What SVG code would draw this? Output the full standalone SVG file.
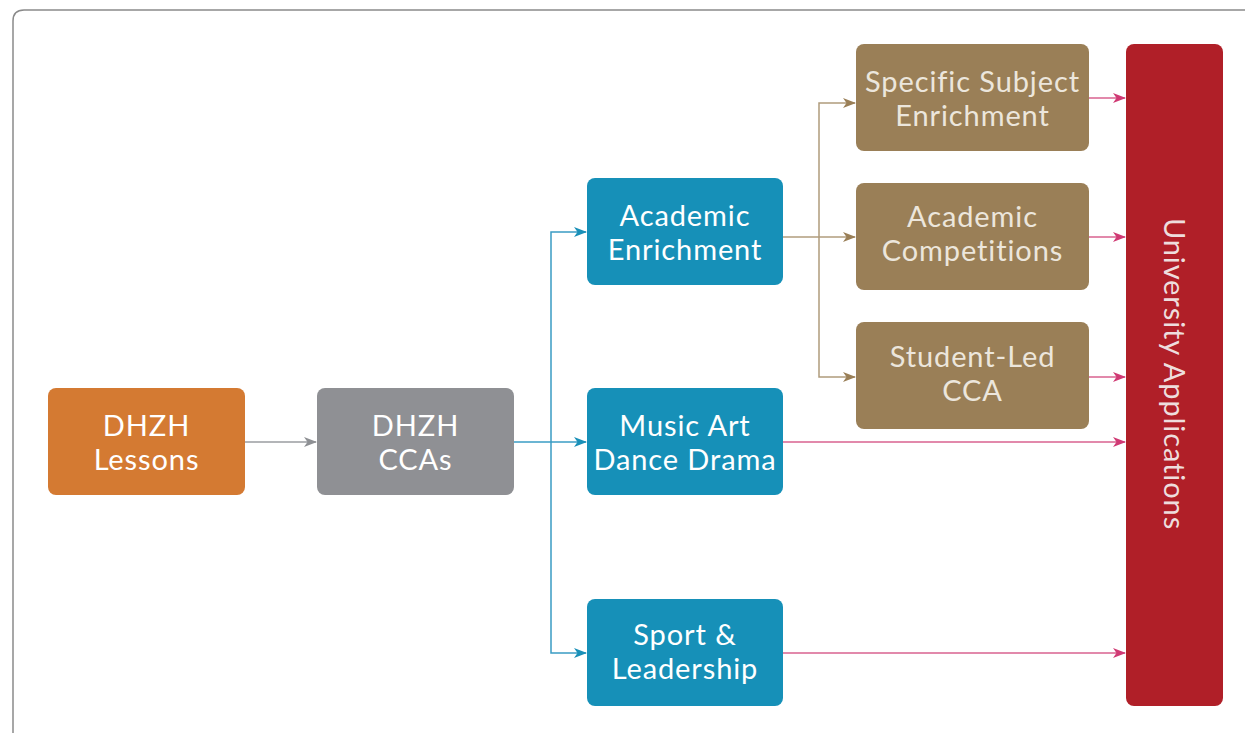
<svg xmlns="http://www.w3.org/2000/svg" width="1245" height="733" viewBox="0 0 1245 733">
<style>
.lbl{font-family:Lato,"Open Sans","DejaVu Sans",sans-serif;font-size:29px;letter-spacing:0.9px;text-anchor:middle}
.w{fill:#ffffff}
.lt{fill:#ece6dc}
.ln{fill:none;stroke-width:1.5}
</style>
<defs>
<marker id="aG" markerWidth="14" markerHeight="12" refX="12" refY="5" orient="auto" markerUnits="userSpaceOnUse"><path d="M0,0 L13,5 L0,10 L3.5,5 Z" fill="#8e9094"/></marker>
<marker id="aB" markerWidth="14" markerHeight="12" refX="12" refY="5" orient="auto" markerUnits="userSpaceOnUse"><path d="M0,0 L13,5 L0,10 L3.5,5 Z" fill="#1a90b8"/></marker>
<marker id="aN" markerWidth="14" markerHeight="12" refX="12" refY="5" orient="auto" markerUnits="userSpaceOnUse"><path d="M0,0 L13,5 L0,10 L3.5,5 Z" fill="#9a7f57"/></marker>
<marker id="aP" markerWidth="14" markerHeight="12" refX="12" refY="5" orient="auto" markerUnits="userSpaceOnUse"><path d="M0,0 L13,5 L0,10 L3.5,5 Z" fill="#d03a74"/></marker>
</defs>
<rect width="1245" height="733" fill="#ffffff"/>
<path d="M13,733 V21 Q13,10 24,10 H1245" fill="none" stroke="#8a8a8a" stroke-width="1.5"/>
<g id="connectors">
<path class="ln" stroke="#9a9ca0" d="M245,442 H316" marker-end="url(#aG)"/>
<path class="ln" stroke="#3a9cc4" d="M514,442 H586" marker-end="url(#aB)"/>
<path class="ln" stroke="#3a9cc4" d="M551,442 V232 H586" marker-end="url(#aB)"/>
<path class="ln" stroke="#3a9cc4" d="M551,442 V653 H586" marker-end="url(#aB)"/>
<path class="ln" stroke="#b09c7c" d="M783,237 H855" marker-end="url(#aN)"/>
<path class="ln" stroke="#b09c7c" d="M819,237 V103 H855" marker-end="url(#aN)"/>
<path class="ln" stroke="#b09c7c" d="M819,237 V377 H855" marker-end="url(#aN)"/>
<path class="ln" stroke="#d9628f" d="M1089,98 H1125" marker-end="url(#aP)"/>
<path class="ln" stroke="#d9628f" d="M1089,237 H1125" marker-end="url(#aP)"/>
<path class="ln" stroke="#d9628f" d="M1089,377 H1125" marker-end="url(#aP)"/>
<path class="ln" stroke="#d9628f" d="M783,442 H1125" marker-end="url(#aP)"/>
<path class="ln" stroke="#d9628f" d="M783,653 H1125" marker-end="url(#aP)"/>
</g>
<g id="lessons">
<rect x="48" y="388" width="197" height="107" rx="8" fill="#d47a32"/>
<text class="lbl w" x="146.5" y="436">DHZH</text>
<text class="lbl w" x="146.5" y="470">Lessons</text>
</g>
<g id="ccas">
<rect x="317" y="388" width="197" height="107" rx="8" fill="#8f9094"/>
<text class="lbl w" x="415.5" y="436">DHZH</text>
<text class="lbl w" x="415.5" y="470">CCAs</text>
</g>
<g id="academic-enrichment">
<rect x="587" y="178" width="196" height="107" rx="8" fill="#1690b8"/>
<text class="lbl w" x="685" y="226">Academic</text>
<text class="lbl w" x="685" y="260">Enrichment</text>
</g>
<g id="music">
<rect x="587" y="388" width="196" height="107" rx="8" fill="#1690b8"/>
<text class="lbl w" x="685" y="436">Music Art</text>
<text class="lbl w" x="685" y="470">Dance Drama</text>
</g>
<g id="sport">
<rect x="587" y="599" width="196" height="107" rx="8" fill="#1690b8"/>
<text class="lbl w" x="685" y="645">Sport &amp;</text>
<text class="lbl w" x="685" y="679">Leadership</text>
</g>
<g id="specific">
<rect x="856" y="44" width="233" height="107" rx="8" fill="#9a7f57"/>
<text class="lbl lt" x="972.5" y="92">Specific Subject</text>
<text class="lbl lt" x="972.5" y="126">Enrichment</text>
</g>
<g id="competitions">
<rect x="856" y="183" width="233" height="107" rx="8" fill="#9a7f57"/>
<text class="lbl lt" x="972.5" y="227">Academic</text>
<text class="lbl lt" x="972.5" y="261">Competitions</text>
</g>
<g id="student-led">
<rect x="856" y="322" width="233" height="107" rx="8" fill="#9a7f57"/>
<text class="lbl lt" x="972.5" y="367">Student-Led</text>
<text class="lbl lt" x="972.5" y="401">CCA</text>
</g>
<g id="university">
<rect x="1126" y="44" width="97" height="662" rx="8" fill="#b01f28"/>
<text class="lbl" fill="#eedddd" transform="translate(1164,374) rotate(90)" x="0" y="0">University Applications</text>
</g>
</svg>
